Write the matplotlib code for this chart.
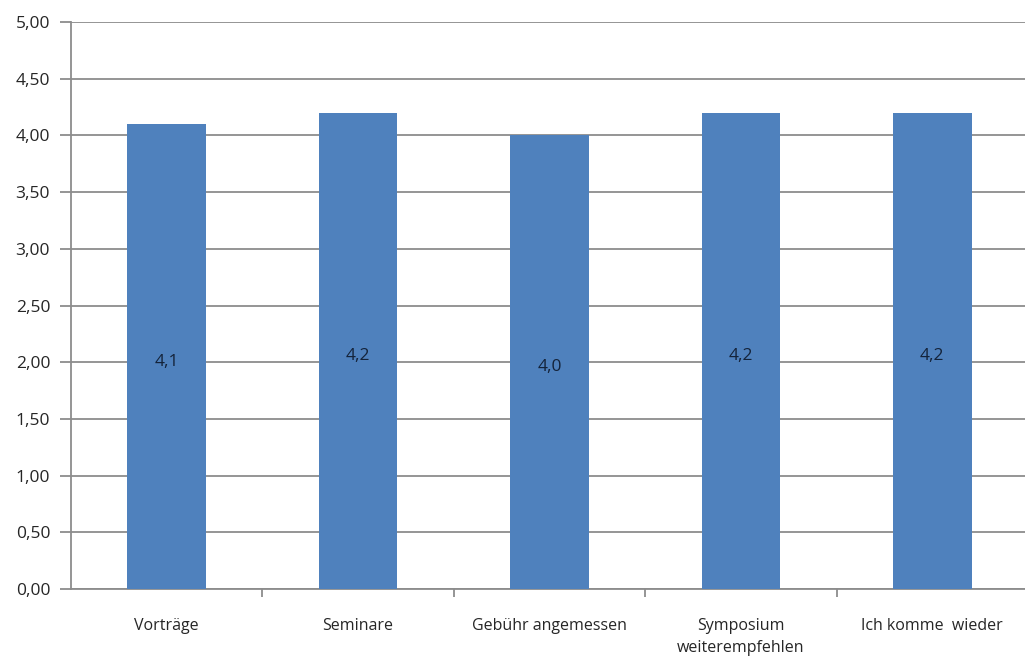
import matplotlib
matplotlib.use("Agg")
import matplotlib.pyplot as plt
from matplotlib.ticker import MultipleLocator, FuncFormatter, FixedLocator

categories = ["Vorträge", "Seminare", "Gebühr angemessen", "Symposium\nweiterempfehlen", "Ich komme  wieder"]
values = [4.1, 4.2, 4.0, 4.2, 4.2]
value_labels = ["4,1", "4,2", "4,0", "4,2", "4,2"]

plt.rcParams['font.family'] = ['Open Sans', 'DejaVu Sans']

fig = plt.figure(figsize=(10.25, 6.62), dpi=100)
ax = fig.add_axes([71 / 1025, 1 - 589 / 662, 957 / 1025, (589 - 22) / 662])

bar_color = "#4F81BD"
grid_color = "#8C8C8C"
text_color = "#262626"

x = list(range(len(categories)))
ax.bar(x, values, width=0.41, color=bar_color, zorder=3)

for xi, v, lab in zip(x, values, value_labels):
    ax.annotate(lab, (xi, v / 2), xytext=(0, -5), textcoords="offset pixels",
                ha="center", va="center", fontsize=12.5, color="#14233a", zorder=4)

ax.set_xlim(-0.5, len(categories) - 0.5)
ax.set_ylim(0, 5)
ax.yaxis.set_major_locator(MultipleLocator(0.5))
ax.yaxis.set_major_formatter(FuncFormatter(lambda v, p: f"{v:.2f}".replace(".", ",")))
ax.grid(axis="y", color=grid_color, linewidth=1.3, zorder=0)

ax.set_xticks(x)
ax.set_xticklabels(categories, fontsize=11.5, color=text_color, linespacing=1.5)
ax.tick_params(axis="x", length=0, pad=21)
ax.xaxis.set_minor_locator(FixedLocator([i + 0.5 for i in range(len(categories) - 1)]))
ax.tick_params(axis="x", which="minor", length=6, color=grid_color, width=1.3, direction="out")
ax.tick_params(axis="y", length=8, color=grid_color, width=1.3, labelsize=12.5,
               labelcolor=text_color, pad=7)

for side in ["top", "right"]:
    ax.spines[side].set_visible(False)
ax.spines["left"].set_color(grid_color)
ax.spines["left"].set_linewidth(1.3)
ax.spines["bottom"].set_color(grid_color)
ax.spines["bottom"].set_linewidth(1.3)

fig.savefig("out.png", dpi=100, facecolor="white")
